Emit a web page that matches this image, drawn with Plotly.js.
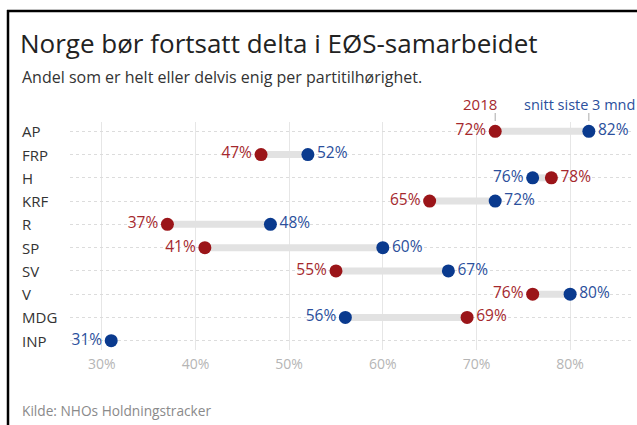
<!DOCTYPE html>
<html>
<head>
<meta charset="utf-8">
<script src="https://cdn.plot.ly/plotly-3.0.1.min.js"></script>
<style>
html,body{margin:0;padding:0;background:#fff;}
#chart{width:637px;height:425px;}
</style>
</head>
<body>
<div id="chart"></div>
<script>
const parties = ["AP","FRP","H","KRF","R","SP","SV","V","MDG","INP"];
const val2018 = [72,47,78,65,37,41,55,76,69,null];
const valSnitt = [82,52,76,72,48,60,67,80,56,31];
const xTicks = [30,40,50,60,70,80];
const legendNames = ["2018","snitt siste 3 mnd"];

const RED = "#9b1519", BLUE = "#0a3a8e";
const RED_T = "#a5282d", BLUE_T = "#2b4f9c";
const FONT = "'Open Sans', sans-serif";

const bx = [], by = [];
parties.forEach((p,i)=>{
  if (val2018[i]!=null && valSnitt[i]!=null){
    bx.push(val2018[i], valSnitt[i], null); by.push(p,p,null);
  }
});
function pos(a,b){ return parties.map((p,i)=>{
  if (b[i]==null || a[i]==null) return "middle left";
  return a[i] < b[i] ? "middle left" : "middle right";
});}
const traces = [
  {x:bx, y:by, mode:"lines", line:{color:"#e2e2e2", width:7}, hoverinfo:"skip", connectgaps:false},
  {x:val2018, y:parties, mode:"markers+text", marker:{color:RED,size:13},
   text:val2018.map(v=>v==null?"":v+"%"), textposition:pos(val2018,valSnitt),
   textfont:{color:RED_T,size:15.5,family:FONT}, cliponaxis:false, name:legendNames[0]},
  {x:valSnitt, y:parties, mode:"markers+text", marker:{color:BLUE,size:13},
   text:valSnitt.map(v=>v+"%"), textposition:pos(valSnitt,val2018),
   textfont:{color:BLUE_T,size:15.5,family:FONT}, cliponaxis:false, name:legendNames[1]}
];

const L=70, R=6, T=122, B=75, W=637, H=425;
const pw = W-L-R, ph = H-T-B;
const px = x => (x-L)/pw;
const py = y => (H-B-y)/ph;

const annotations = parties.map(p=>({
  x:px(20), xref:"paper", y:p, yref:"y", xanchor:"left", yanchor:"middle",
  text:p, showarrow:false, font:{size:15,color:"#333",family:FONT}
}));
annotations.push(
  {x:px(20), xref:"paper", y:py(77), yref:"paper", xanchor:"left", yanchor:"middle",
   text:"Andel som er helt eller delvis enig per partitilhørighet.", showarrow:false,
   font:{size:16,color:"#333",family:FONT}},
  {x:px(20), xref:"paper", y:py(410), yref:"paper", xanchor:"left", yanchor:"middle",
   text:"Kilde: NHOs Holdningstracker", showarrow:false,
   font:{size:13.7,color:"#8a8a8a",family:FONT}},
  {x:val2018[0], xref:"x", y:py(104), yref:"paper", xanchor:"right", yanchor:"middle", xshift:4,
   text:legendNames[0], showarrow:false, font:{size:15,color:RED_T,family:FONT}},
  {x:px(637), xref:"paper", y:py(104), yref:"paper", xanchor:"right", yanchor:"middle",
   text:legendNames[1], showarrow:false, font:{size:14.5,color:BLUE_T,family:FONT}}
);

const shapes = [
  {type:"line", xref:"paper", yref:"paper", x0:px(8), x1:px(8), y0:py(10), y1:py(425), line:{color:"#000",width:2.5}},
  {type:"line", xref:"paper", yref:"paper", x0:px(7), x1:px(637), y0:py(11), y1:py(11), line:{color:"#000",width:2.5}},
  {type:"line", xref:"x", yref:"paper", x0:val2018[0], x1:val2018[0], y0:py(113), y1:py(121), line:{color:"#aaa",width:1}},
  {type:"line", xref:"x", yref:"paper", x0:valSnitt[0], x1:valSnitt[0], y0:py(113), y1:py(121), line:{color:"#aaa",width:1}}
];

const layout = {
  width:W, height:H, margin:{l:L,r:R,t:T,b:B},
  paper_bgcolor:"#fff", plot_bgcolor:"#fff", showlegend:false,
  font:{family:FONT},
  title:{text:"Norge bør fortsatt delta i EØS-samarbeidet", x:20/W, xref:"container", xanchor:"left",
         y:1-44/H, yref:"container", yanchor:"middle", font:{size:26,color:"#222",family:FONT}},
  xaxis:{range:[26.6,86.5], tickvals:xTicks, ticktext:xTicks.map(v=>v+"%"), showgrid:true,
         gridcolor:"#e6e6e6", gridwidth:1, zeroline:false, showline:false, ticks:"",
         tickfont:{size:14,color:"#b5b5b5",family:FONT}, ticklabelstandoff:4, fixedrange:true},
  yaxis:{type:"category", categoryarray:parties, categoryorder:"array", range:[9.4,-0.4],
         showticklabels:false, showgrid:true, gridcolor:"#dcdcdc", griddash:"dot", gridwidth:1,
         zeroline:false, showline:false, ticks:"", fixedrange:true},
  annotations, shapes
};
Plotly.newPlot("chart", traces, layout, {displayModeBar:false, staticPlot:true});
</script>
</body>
</html>
